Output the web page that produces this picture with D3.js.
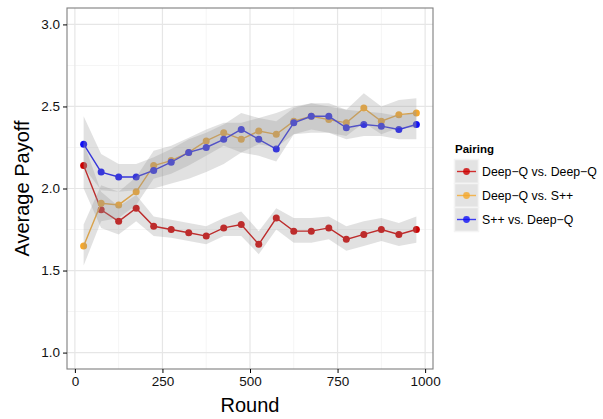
<!DOCTYPE html>
<html><head><meta charset="utf-8">
<script src="https://cdn.jsdelivr.net/npm/d3@7"></script>
<style>body{margin:0;background:#fff;} text{font-family:"Liberation Sans",Arial,sans-serif;}</style>
</head><body>
<svg id="c" width="603" height="419"></svg>
<script>
const rounds = [25,75,125,175,225,275,325,375,425,475,525,575,625,675,725,775,825,875,925,975];
const seriesNames = ["Deep\u2212Q vs. Deep\u2212Q","Deep\u2212Q vs. S++","S++ vs. Deep\u2212Q"];
const dqdq   = [2.14,1.87,1.80,1.88,1.77,1.75,1.73,1.71,1.76,1.78,1.66,1.82,1.74,1.74,1.76,1.69,1.72,1.75,1.72,1.75];
const dqdqLo = [2.00,1.76,1.72,1.80,1.71,1.70,1.68,1.66,1.71,1.71,1.60,1.75,1.67,1.67,1.69,1.62,1.65,1.68,1.65,1.67];
const dqdqHi = [2.28,1.98,1.89,1.96,1.83,1.81,1.79,1.77,1.82,1.86,1.74,1.88,1.82,1.82,1.83,1.77,1.80,1.82,1.79,1.83];
const dqsp   = [1.65,1.91,1.90,1.98,2.14,2.17,2.22,2.29,2.34,2.30,2.35,2.33,2.41,2.44,2.42,2.40,2.49,2.41,2.45,2.46];
const dqspLo = [1.53,1.80,1.82,1.90,2.06,2.09,2.14,2.20,2.26,2.22,2.27,2.25,2.33,2.36,2.34,2.32,2.40,2.33,2.37,2.37];
const dqspHi = [1.78,2.02,1.98,2.07,2.23,2.26,2.31,2.36,2.40,2.40,2.43,2.41,2.49,2.52,2.50,2.48,2.58,2.50,2.54,2.55];
const spdq   = [2.27,2.10,2.07,2.07,2.11,2.16,2.22,2.25,2.30,2.36,2.30,2.24,2.40,2.44,2.44,2.37,2.39,2.38,2.36,2.39];
const spdqLo = [2.13,1.99,1.98,1.99,2.00,2.03,2.06,2.10,2.15,2.22,2.20,2.165,2.33,2.34,2.34,2.30,2.32,2.32,2.30,2.30];
const spdqHi = [2.44,2.21,2.15,2.15,2.19,2.24,2.30,2.34,2.39,2.46,2.43,2.46,2.50,2.52,2.52,2.48,2.47,2.46,2.44,2.47];
const xTicks = [0,250,500,750,1000];
const xMinor = [125,375,625,875];
const yTicks = [1.0,1.5,2.0,2.5,3.0];
const yMinor = [1.25,1.75,2.25,2.75];
const colors = ["#CC0000","#F4A72C","#1010F5"];

const series = [
  {name:seriesNames[0], v:dqdq, lo:dqdqLo, hi:dqdqHi, c:colors[0]},
  {name:seriesNames[1], v:dqsp, lo:dqspLo, hi:dqspHi, c:colors[1]},
  {name:seriesNames[2], v:spdq, lo:spdqLo, hi:spdqHi, c:colors[2]}
];

const svg = d3.select("#c");
const L=67,R=433,T=8,B=369;
const x = d3.scaleLinear().domain([-22.5,1022.5]).range([L,R]);
const y = d3.scaleLinear().domain([0.9,3.1]).range([B,T]);

// grid
const g = svg.append("g");
g.selectAll(".xm").data(xMinor).join("line").attr("x1",d=>x(d)).attr("x2",d=>x(d)).attr("y1",T).attr("y2",B).attr("stroke","#f5f5f5").attr("stroke-width",1);
g.selectAll(".ym").data(yMinor).join("line").attr("y1",d=>y(d)).attr("y2",d=>y(d)).attr("x1",L).attr("x2",R).attr("stroke","#f5f5f5").attr("stroke-width",1);
g.selectAll(".xM").data(xTicks).join("line").attr("x1",d=>x(d)).attr("x2",d=>x(d)).attr("y1",T).attr("y2",B).attr("stroke","#e6e6e6").attr("stroke-width",1.2);
g.selectAll(".yM").data(yTicks).join("line").attr("y1",d=>y(d)).attr("y2",d=>y(d)).attr("x1",L).attr("x2",R).attr("stroke","#e6e6e6").attr("stroke-width",1.2);

const line = d3.line().x((d,i)=>x(rounds[i])).y(d=>y(d));
series.forEach(s=>{
  svg.append("path").attr("d",line(s.v)).attr("fill","none").attr("stroke",s.c).attr("stroke-width",1.4);
  svg.append("g").selectAll("circle").data(s.v).join("circle")
    .attr("cx",(d,i)=>x(rounds[i])).attr("cy",d=>y(d)).attr("r",3.5).attr("fill",s.c);
});
const area = d3.area().x((d,i)=>x(rounds[i])).y0(d=>y(d[0])).y1(d=>y(d[1]));
series.forEach(s=>{
  svg.append("path").attr("d",area(s.lo.map((l,i)=>[l,s.hi[i]]))).attr("fill","#999999").attr("fill-opacity",0.29);
});

// border
svg.append("rect").attr("x",L).attr("y",T).attr("width",R-L).attr("height",B-T).attr("fill","none").attr("stroke","#7f7f7f").attr("stroke-width",1.1);

// axes
const xa = svg.append("g").attr("transform",`translate(0,${B})`).call(d3.axisBottom(x).tickValues(xTicks).tickSize(4).tickPadding(3).tickFormat(d3.format("d")));
const ya = svg.append("g").attr("transform",`translate(${L},0)`).call(d3.axisLeft(y).tickValues(yTicks).tickSize(4).tickPadding(3).tickFormat(d3.format(".1f")));
[xa,ya].forEach(a=>{a.select(".domain").remove();a.selectAll("line").attr("stroke","#000");a.selectAll("text").attr("font-size",13.5).attr("fill","#111").attr("font-family","Liberation Sans, Arial, sans-serif");});

svg.append("text").attr("x",(L+R)/2).attr("y",412).attr("text-anchor","middle").attr("font-size",20).attr("fill","#000").text("Round");
svg.append("text").attr("transform",`translate(29,${(T+B)/2}) rotate(-90)`).attr("text-anchor","middle").attr("font-size",20).attr("fill","#000").text("Average Payoff");

// legend
const lg = svg.append("g");
lg.append("text").attr("x",455).attr("y",153).attr("font-size",11.5).attr("font-weight","bold").attr("fill","#000").text("Pairing");
series.forEach((s,i)=>{
  const ky = 159.5 + i*24;
  lg.append("rect").attr("x",454.5).attr("y",ky).attr("width",24).attr("height",24).attr("fill","#e3e3e3").attr("stroke","#f4f4f4").attr("stroke-width",1.5);
  lg.append("line").attr("x1",457).attr("x2",476).attr("y1",ky+12).attr("y2",ky+12).attr("stroke",s.c).attr("stroke-width",1.4).attr("stroke-opacity",0.8);
  lg.append("circle").attr("cx",466.5).attr("cy",ky+12).attr("r",3.4).attr("fill",s.c).attr("fill-opacity",0.8);
  lg.append("text").attr("x",482).attr("y",ky+16.5).attr("font-size",12.3).attr("fill","#000").text(s.name);
});
</script>
</body></html>
